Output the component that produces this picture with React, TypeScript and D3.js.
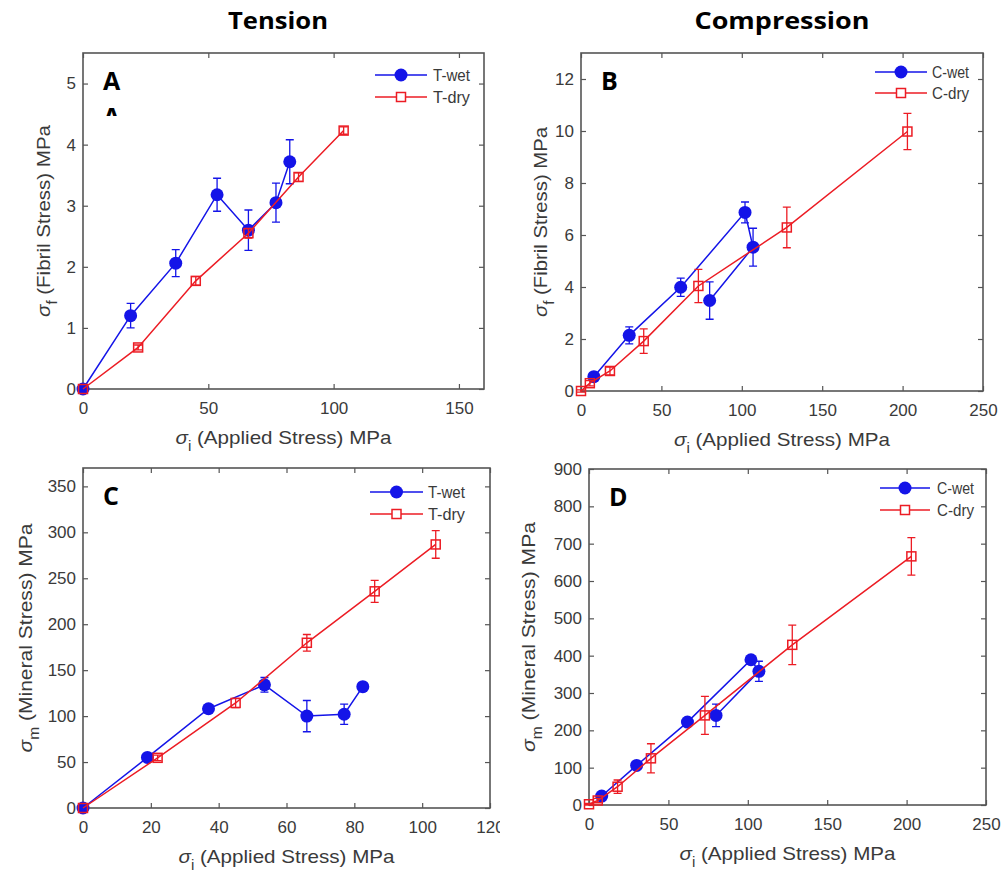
import React, { useEffect, useRef } from 'react';
import * as d3 from 'd3';

// Tension data (A: fibril, C: mineral)
const tWetX = [0, 19, 37, 53.5, 66, 77, 82.5];
const tWetFibril = [0, 1.2, 2.06, 3.18, 2.6, 3.05, 3.72];
const tWetFibrilErr = [0, 0.2, 0.22, 0.27, 0.33, 0.32, 0.36];
const tWetMineral = [0, 55, 108, 134, 100, 102, 132];
const tWetMineralErr = [0, 2, 3, 8, 17, 11, 3];

const tDryX = [0, 22, 45, 66, 86, 104];
const tDryFibril = [0, 0.68, 1.77, 2.55, 3.47, 4.23];
const tDryFibrilErr = [0, 0.04, 0.07, 0.08, 0.07, 0.06];
const tDryMineral = [0, 54.6, 114.3, 179.8, 235.8, 286.8];
const tDryMineralErr = [0, 3, 5, 9, 12, 15];

// Compression data (B: fibril, D: mineral)
const cWetX = [8, 30, 62, 102, 107, 80];
const cWetFibril = [0.55, 2.14, 3.99, 6.87, 5.53, 3.48];
const cWetFibrilErr = [0.15, 0.33, 0.35, 0.4, 0.73, 0.72];
const cWetMineral = [24, 106, 222, 389, 358, 240];
const cWetMineralErr = [5, 8, 8, 10, 27, 30];

const cDryX = [0, 5.5, 18, 39, 73, 128, 203];
const cDryFibril = [0, 0.3, 0.77, 1.92, 4.04, 6.29, 9.98];
const cDryFibrilErr = [0.04, 0.1, 0.15, 0.47, 0.64, 0.78, 0.7];
const cDryMineral = [2, 12, 49, 125, 240, 429, 666];
const cDryMineralErr = [2, 6, 18, 39, 51, 53, 50];

// Ticks
const xTicksA = [0, 50, 100, 150];
const yTicksA = [0, 1, 2, 3, 4, 5];
const xTicksB = [0, 50, 100, 150, 200, 250];
const yTicksB = [0, 2, 4, 6, 8, 10, 12];
const xTicksC = [0, 20, 40, 60, 80, 100, 120];
const yTicksC = [0, 50, 100, 150, 200, 250, 300, 350];
const xTicksD = [0, 50, 100, 150, 200, 250];
const yTicksD = [0, 100, 200, 300, 400, 500, 600, 700, 800, 900];

const BLUE = '#1414e8';
const RED = '#ec1c24';
const AXIS = '#555';
const TXT = '#3a3a3a';
const FONT = '"Liberation Sans", Arial, sans-serif';
const BOLD = '"Open Sans", "Noto Sans", sans-serif';

const zip = (xs, ys, es) => xs.map((x, i) => ({ x, y: ys[i], e: es[i] }));

const panels = [
  {
    letter: 'A', box: [83, 484, 53, 389], xd: [0, 160], yd: [0, 5.5], xt: xTicksA, yt: yTicksA,
    sub: 'f', yName: ' (Fibril Stress) MPa', yLen: 192, yOff: 33,
    names: ['T-wet', 'T-dry'], leg: [109, 57, 51, 22, 22],
    wet: zip(tWetX, tWetFibril, tWetFibrilErr), dry: zip(tDryX, tDryFibril, tDryFibrilErr),
  },
  {
    letter: 'B', box: [581, 983, 53, 391], xd: [0, 250], yd: [0, 13], xt: xTicksB, yt: yTicksB,
    sub: 'f', yName: ' (Fibril Stress) MPa', yLen: 190, yOff: 34,
    names: ['C-wet', 'C-dry'], leg: [108, 56, 51, 19, 21],
    wet: zip(cWetX, cWetFibril, cWetFibrilErr), dry: zip(cDryX, cDryFibril, cDryFibrilErr),
  },
  {
    letter: 'C', box: [83, 490, 468, 808], xd: [0, 120], yd: [0, 370], xt: xTicksC, yt: yTicksC,
    sub: 'm', yName: ' (Mineral Stress) MPa', yLen: 229, yOff: 51, clip: [0, 500],
    names: ['T-wet', 'T-dry'], leg: [120, 67, 62, 24, 22],
    wet: zip(tWetX, tWetMineral, tWetMineralErr), dry: zip(tDryX, tDryMineral, tDryMineralErr),
  },
  {
    letter: 'D', box: [589, 986, 469, 805], xd: [0, 250], yd: [0, 900], xt: xTicksD, yt: yTicksD,
    sub: 'm', yName: ' (Mineral Stress) MPa', yLen: 230, yOff: 54,
    names: ['C-wet', 'C-dry'], leg: [106, 56, 49, 19, 22],
    wet: zip(cWetX, cWetMineral, cWetMineralErr), dry: zip(cDryX, cDryMineral, cDryMineralErr),
  },
];

export default function App() {
  const svgRef = useRef(null);

  useEffect(() => {
    const svg = d3.select(svgRef.current);
    svg.selectAll('*').remove();
    svg.append('rect').attr('width', 1005).attr('height', 875).attr('fill', '#fff');

    // column titles
    svg.append('text').attr('x', 278).attr('y', 29).attr('text-anchor', 'middle')
      .attr('font-family', BOLD).attr('font-weight', 700).attr('font-size', 24)
      .attr('textLength', 100).attr('lengthAdjust', 'spacingAndGlyphs').text('Tension');
    svg.append('text').attr('x', 782).attr('y', 29).attr('text-anchor', 'middle')
      .attr('font-family', BOLD).attr('font-weight', 700).attr('font-size', 24)
      .attr('textLength', 175).attr('lengthAdjust', 'spacingAndGlyphs').text('Compression');

    panels.forEach((p, pi) => {
      const [l, r, t, b] = p.box;
      const g = svg.append('g');
      if (p.clip) {
        const id = `clip${pi}`;
        svg.append('clipPath').attr('id', id).append('rect')
          .attr('x', p.clip[0]).attr('y', 0).attr('width', p.clip[1] - p.clip[0]).attr('height', 875);
        g.attr('clip-path', `url(#${id})`);
      }
      const x = d3.scaleLinear().domain(p.xd).range([l, r]);
      const y = d3.scaleLinear().domain(p.yd).range([b, t]);

      const styleAxis = (sel) => {
        sel.select('.domain').remove();
        sel.selectAll('line').attr('stroke', AXIS).attr('stroke-width', 1.2);
        sel.selectAll('text').attr('fill', TXT).attr('font-family', FONT).attr('font-size', 17);
      };
      g.append('g').attr('transform', `translate(0,${b})`)
        .call(d3.axisBottom(x).tickValues(p.xt).tickSize(-5).tickPadding(13).tickFormat(d3.format('d')))
        .call(styleAxis);
      g.append('g').attr('transform', `translate(0,${t})`)
        .call(d3.axisTop(x).tickValues(p.xt).tickSize(-5).tickFormat(() => ''))
        .call(styleAxis);
      g.append('g').attr('transform', `translate(${l},0)`)
        .call(d3.axisLeft(y).tickValues(p.yt).tickSize(-5).tickPadding(7).tickFormat(d3.format('d')))
        .call(styleAxis);
      g.append('g').attr('transform', `translate(${r},0)`)
        .call(d3.axisRight(y).tickValues(p.yt).tickSize(-5).tickFormat(() => ''))
        .call(styleAxis);
      g.append('rect').attr('x', l).attr('y', t).attr('width', r - l).attr('height', b - t)
        .attr('fill', 'none').attr('stroke', AXIS).attr('stroke-width', 1.6);

      // axis labels
      const xl = g.append('text').attr('x', (l + r) / 2).attr('y', b + 55).attr('text-anchor', 'middle')
        .attr('font-family', FONT).attr('font-size', 19).attr('fill', TXT)
        .attr('textLength', 216).attr('lengthAdjust', 'spacingAndGlyphs');
      xl.append('tspan').attr('font-style', 'italic').text('σ');
      xl.append('tspan').attr('dy', 7).attr('font-size', 14).text('i');
      xl.append('tspan').attr('dy', -7).text(' (Applied Stress) MPa');

      const cy = (t + b) / 2;
      const yl = g.append('text').attr('transform', `translate(${l - p.yOff},${cy}) rotate(-90)`)
        .attr('text-anchor', 'middle').attr('font-family', FONT).attr('font-size', 19).attr('fill', TXT)
        .attr('textLength', p.yLen).attr('lengthAdjust', 'spacingAndGlyphs');
      yl.append('tspan').attr('font-style', 'italic').text('σ');
      yl.append('tspan').attr('dy', 7).attr('font-size', 14).text(p.sub);
      yl.append('tspan').attr('dy', -7).text(p.yName);

      // series: wet then dry (dry on top)
      const line = d3.line().x(d => x(d.x)).y(d => y(d.y));
      const drawSeries = (data, color, wet) => {
        const sg = g.append('g');
        sg.append('path').datum(data).attr('d', line).attr('fill', 'none')
          .attr('stroke', color).attr('stroke-width', 1.5);
        data.filter(d => d.e > 0).forEach(d => {
          const px = x(d.x);
          sg.append('path')
            .attr('d', `M${px},${y(d.y - d.e)}V${y(d.y + d.e)}M${px - 4},${y(d.y - d.e)}H${px + 4}M${px - 4},${y(d.y + d.e)}H${px + 4}`)
            .attr('stroke', color).attr('stroke-width', 1.3).attr('fill', 'none');
        });
        if (wet) {
          sg.selectAll('circle').data(data).join('circle')
            .attr('cx', d => x(d.x)).attr('cy', d => y(d.y)).attr('r', 6.5).attr('fill', color);
        } else {
          sg.selectAll('rect').data(data).join('rect')
            .attr('x', d => x(d.x) - 4.5).attr('y', d => y(d.y) - 4.5).attr('width', 9).attr('height', 9)
            .attr('fill', 'none').attr('stroke', color).attr('stroke-width', 1.5);
        }
      };
      drawSeries(p.wet, BLUE, true);
      drawSeries(p.dry, RED, false);

      // legend
      const [lx0, lx1, ltx, ly0, ldy] = p.leg;
      [0, 1].forEach(i => {
        const ly = t + ly0 + i * ldy;
        const color = i === 0 ? BLUE : RED;
        g.append('line').attr('x1', r - lx0).attr('x2', r - lx1).attr('y1', ly).attr('y2', ly)
          .attr('stroke', color).attr('stroke-width', 1.5);
        const mx = (r - lx0 + r - lx1) / 2;
        if (i === 0) g.append('circle').attr('cx', mx).attr('cy', ly).attr('r', 6.5).attr('fill', color);
        else g.append('rect').attr('x', mx - 4.5).attr('y', ly - 4.5).attr('width', 9).attr('height', 9)
          .attr('fill', '#fff').attr('stroke', color).attr('stroke-width', 1.5);
        g.append('text').attr('x', r - ltx).attr('y', ly).attr('dy', '0.36em')
          .attr('font-family', FONT).attr('font-size', 16).attr('fill', TXT)
          .attr('textLength', p.names[i].length * 7.4).attr('lengthAdjust', 'spacingAndGlyphs')
          .text(p.names[i]);
      });

      // panel letter
      g.append('text').attr('x', l + 20).attr('y', t + 37).attr('font-family', BOLD)
        .attr('font-weight', 700).attr('font-size', 25).attr('fill', '#000').text(p.letter);
    });

    // stray clipped duplicate "A" under panel letter A
    svg.append('clipPath').attr('id', 'clipStray').append('rect')
      .attr('x', 95).attr('y', 100).attr('width', 40).attr('height', 16);
    svg.append('text').attr('x', 103).attr('y', 126).attr('font-family', BOLD)
      .attr('font-weight', 700).attr('font-size', 25).attr('fill', '#000')
      .attr('clip-path', 'url(#clipStray)').text('A');
  }, []);

  return (
    <svg ref={svgRef} width={1005} height={875}
      style={{ position: 'absolute', left: 0, top: 0, display: 'block' }} />
  );
}
